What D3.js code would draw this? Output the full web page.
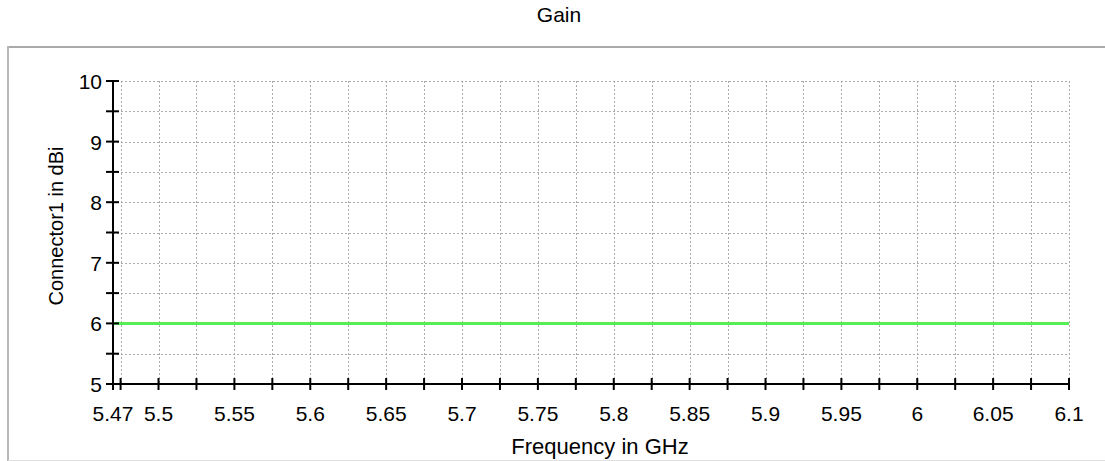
<!DOCTYPE html>
<html>
<head>
<meta charset="utf-8">
<script src="https://cdn.jsdelivr.net/npm/d3@7"></script>
<style>
  html, body { margin: 0; padding: 0; background: #fff; }
  svg { display: block; font-family: Arial, "Liberation Sans", sans-serif; }
</style>
</head>
<body>
<svg id="chart" width="1105" height="461"></svg>
<script>
// ---- data ----
const title = "Gain";
const xLabel = "Frequency in GHz";
const yLabel = "Connector1 in dBi";
const frequency = [5.47, 5.5, 5.55, 5.6, 5.65, 5.7, 5.75, 5.8, 5.85, 5.9, 5.95, 6.0, 6.05, 6.1];
const gain      = [6.0, 6.0, 6.0, 6.0, 6.0, 6.0, 6.0, 6.0, 6.0, 6.0, 6.0, 6.0, 6.0, 6.0];
const xTickLabels = [5.47, 5.5, 5.55, 5.6, 5.65, 5.7, 5.75, 5.8, 5.85, 5.9, 5.95, 6, 6.05, 6.1];
const xMinorTicks = [5.475, 5.5, 5.525, 5.55, 5.575, 5.6, 5.625, 5.65, 5.675, 5.7, 5.725, 5.75, 5.775, 5.8, 5.825, 5.85, 5.875, 5.9, 5.925, 5.95, 5.975, 6.0, 6.025, 6.05, 6.075, 6.1];
const yTickLabels = [5, 6, 7, 8, 9, 10];
const yMinorTicks = [5.5, 6, 6.5, 7, 7.5, 8, 8.5, 9, 9.5, 10];
const xDomain = [5.47, 6.1];
const yDomain = [5, 10];

// ---- layout ----
const svg = d3.select("#chart");
const L = 113, R = 1069, T = 81, B = 384;
const x = d3.scaleLinear().domain(xDomain).range([L, R]);
const y = d3.scaleLinear().domain(yDomain).range([B, T]);

// frame
svg.append("line").attr("x1", 7).attr("x2", 1105).attr("y1", 47).attr("y2", 47)
  .attr("stroke", "#aaaaaa").attr("stroke-width", 2);
svg.append("line").attr("x1", 8).attr("x2", 8).attr("y1", 46).attr("y2", 461)
  .attr("stroke", "#b8b8b8").attr("stroke-width", 2);
svg.append("line").attr("x1", 8).attr("x2", 1105).attr("y1", 460.5).attr("y2", 460.5)
  .attr("stroke", "#e0e0e0").attr("stroke-width", 1);

// title
svg.append("text").attr("x", 559).attr("y", 22).attr("text-anchor", "middle")
  .attr("font-size", 21).attr("fill", "#000").text(title);

// grid
const grid = svg.append("g").attr("stroke", "#aaaaaa").attr("stroke-width", 1)
  .attr("stroke-dasharray", "2,2").attr("fill", "none");
grid.selectAll("line.h").data(yMinorTicks).join("line").attr("class", "h")
  .attr("x1", L).attr("x2", R)
  .attr("y1", d => Math.round(y(d)) + 0.5).attr("y2", d => Math.round(y(d)) + 0.5);
grid.selectAll("line.v").data(xMinorTicks).join("line").attr("class", "v")
  .attr("y1", T).attr("y2", B)
  .attr("x1", d => Math.round(x(d)) + 0.5).attr("x2", d => Math.round(x(d)) + 0.5);

// data line
const line = d3.line().x((d, i) => x(frequency[i])).y(d => y(d));
svg.append("path").datum(gain).attr("d", line).attr("fill", "none")
  .attr("stroke", "#55ee55").attr("stroke-width", 3);

// x axis
const xAxisG = svg.append("g");
xAxisG.append("line").attr("x1", L - 1).attr("x2", R).attr("y1", B).attr("y2", B)
  .attr("stroke", "#000").attr("stroke-width", 2);
xAxisG.selectAll("line.t").data([xDomain[0]].concat(xMinorTicks)).join("line").attr("class", "t")
  .attr("x1", d => x(d)).attr("x2", d => x(d)).attr("y1", B - 6).attr("y2", B + 6)
  .attr("stroke", "#000").attr("stroke-width", 2);
xAxisG.selectAll("text").data(xTickLabels).join("text")
  .attr("x", d => x(d)).attr("y", 421).attr("text-anchor", "middle")
  .attr("font-size", 21).attr("fill", "#000").text(d => String(d));

// y axis
const yAxisG = svg.append("g");
yAxisG.append("line").attr("x1", L).attr("x2", L).attr("y1", T).attr("y2", B + 1)
  .attr("stroke", "#000").attr("stroke-width", 2);
yAxisG.selectAll("line.t").data([5].concat(yMinorTicks)).join("line").attr("class", "t")
  .attr("x1", L - 7).attr("x2", L + 6).attr("y1", d => y(d)).attr("y2", d => y(d))
  .attr("stroke", "#000").attr("stroke-width", 2);
yAxisG.selectAll("text").data(yTickLabels).join("text")
  .attr("x", 102).attr("y", d => y(d) + 8).attr("text-anchor", "end")
  .attr("font-size", 21).attr("fill", "#000").text(d => String(d));

// axis labels
svg.append("text").attr("x", 600).attr("y", 454).attr("text-anchor", "middle")
  .attr("font-size", 22).attr("fill", "#000").text(xLabel);
svg.append("text").attr("transform", "translate(63,226) rotate(-90)")
  .attr("text-anchor", "middle").attr("font-size", 20).attr("fill", "#000").text(yLabel);
</script>
</body>
</html>
